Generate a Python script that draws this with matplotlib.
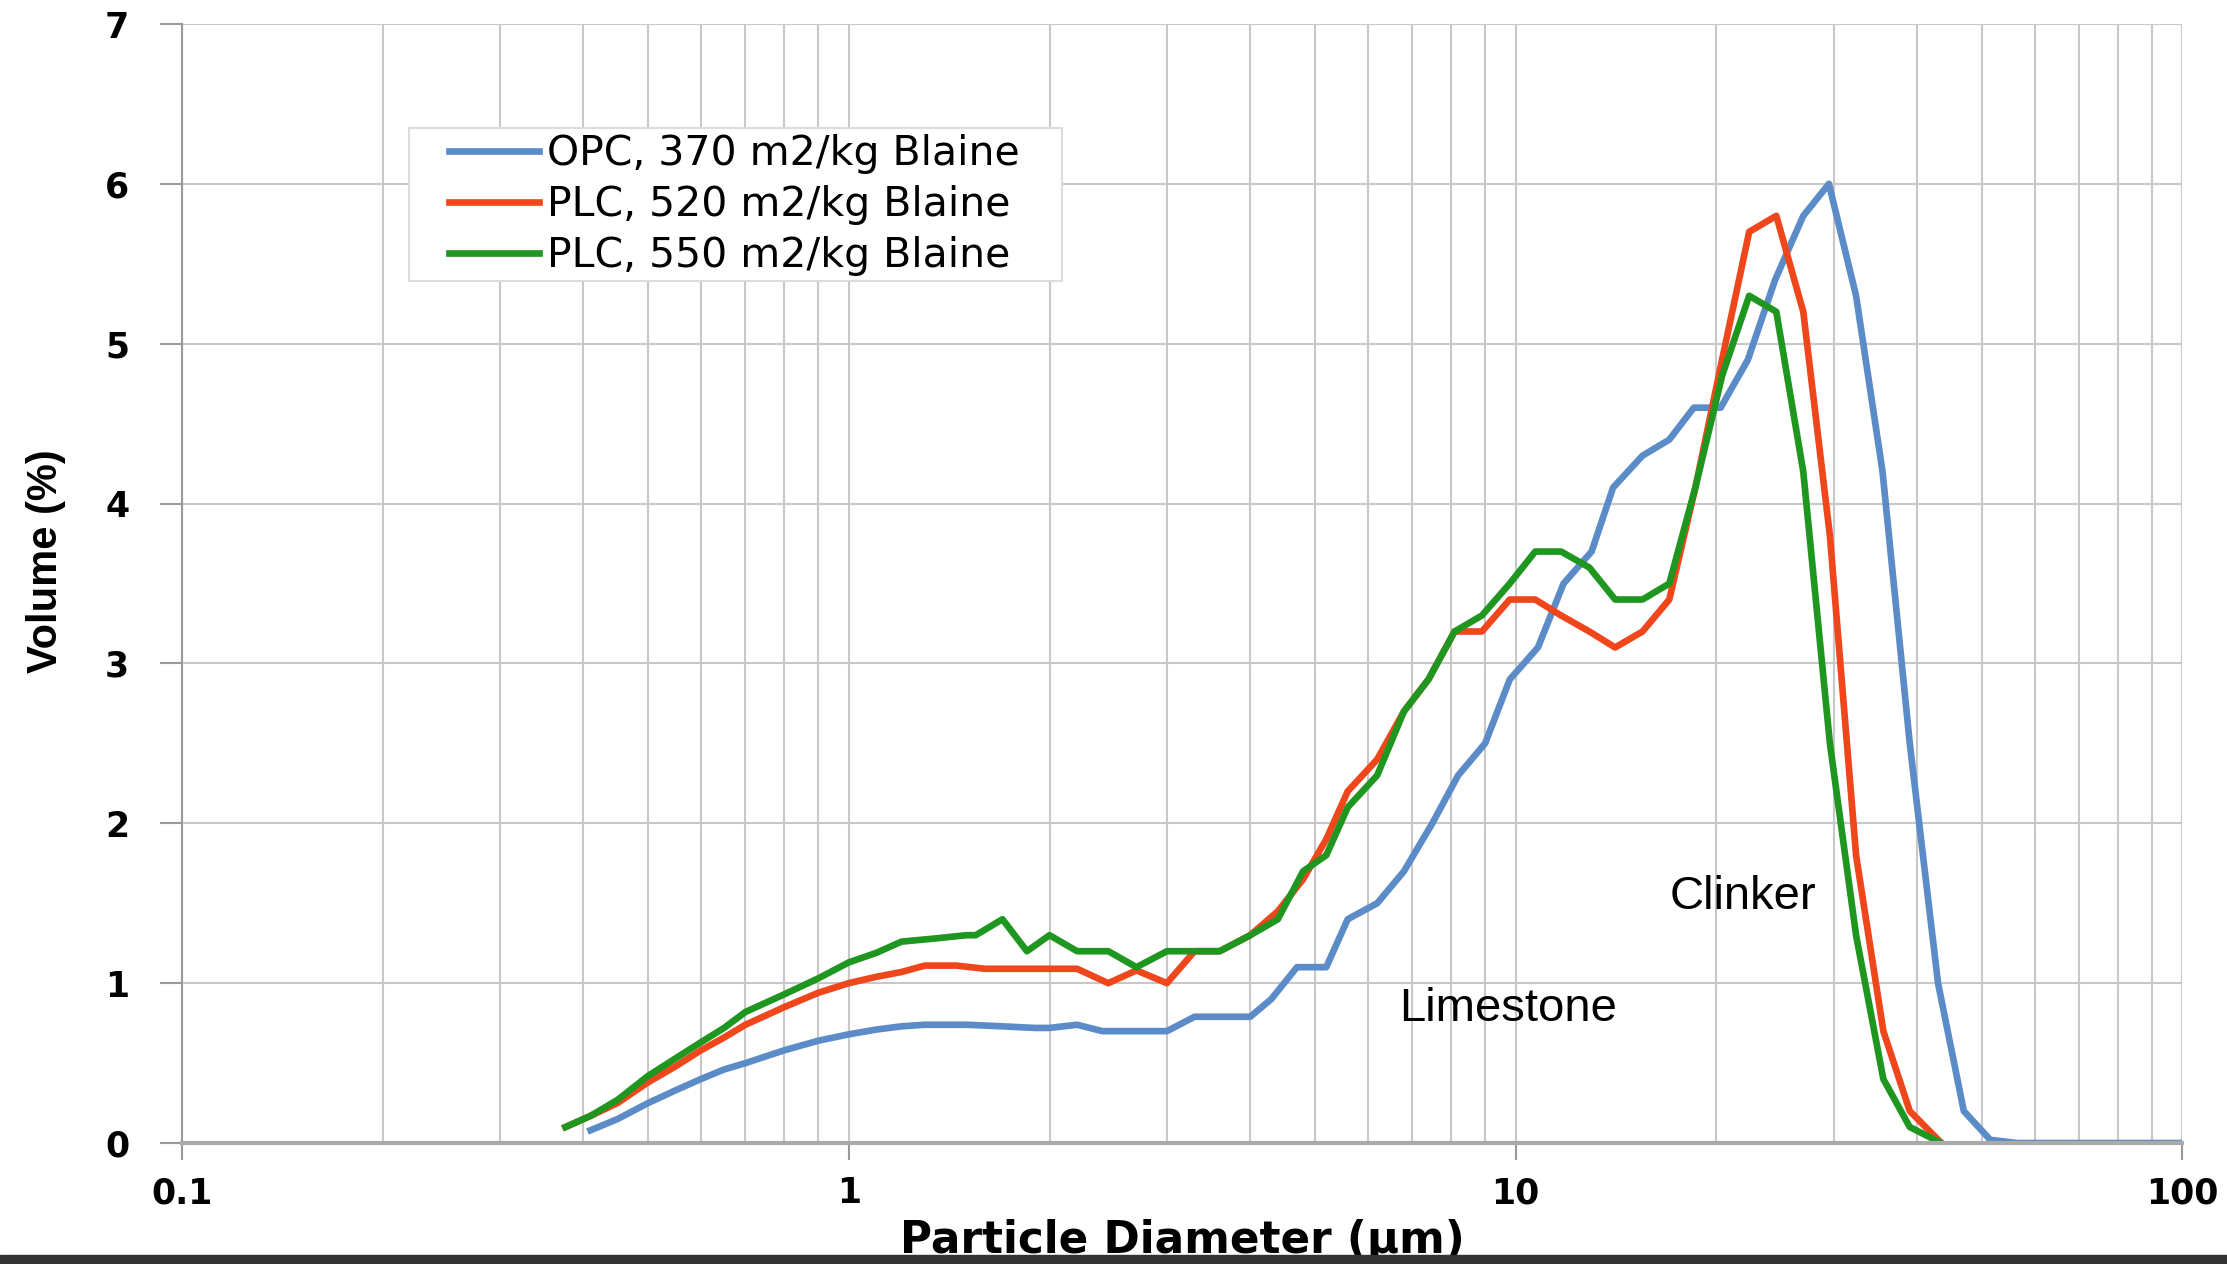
import matplotlib.pyplot as plt
from matplotlib.patches import Rectangle

# particle size distributions
opc_d = [0.41, 0.45, 0.5, 0.55, 0.6, 0.65, 0.7, 0.8, 0.9, 1.0, 1.1, 1.2, 1.3, 1.5, 1.7,
         1.9, 2.0, 2.2, 2.4, 2.7, 3.0, 3.3, 3.6, 4.0, 4.3, 4.7, 5.2, 5.6, 6.2, 6.8, 7.5,
         8.2, 9.0, 9.8, 10.8, 11.8, 13.0, 14.0, 15.5, 17.0, 18.5, 20.3, 22.3, 24.5, 27.0,
         29.5, 32.4, 35.5, 39.0, 43.0, 47.0, 51.5, 56.5, 62, 70, 80, 90, 100]
opc_v = [0.08, 0.15, 0.25, 0.33, 0.40, 0.46, 0.50, 0.58, 0.64, 0.68, 0.71, 0.73, 0.74, 0.74, 0.73,
         0.72, 0.72, 0.74, 0.70, 0.70, 0.70, 0.79, 0.79, 0.79, 0.90, 1.10, 1.10, 1.40, 1.50, 1.70, 2.00,
         2.30, 2.50, 2.90, 3.10, 3.50, 3.70, 4.10, 4.30, 4.40, 4.60, 4.60, 4.90, 5.40, 5.80,
         6.00, 5.30, 4.20, 2.50, 1.00, 0.20, 0.02, 0.0, 0.0, 0.0, 0.0, 0.0, 0.0]

plc520_d = [0.376, 0.41, 0.45, 0.5, 0.55, 0.6, 0.65, 0.7, 0.8, 0.9, 1.0, 1.1, 1.2, 1.3, 1.45,
            1.6, 1.8, 2.0, 2.2, 2.45, 2.7, 3.0, 3.3, 3.6, 4.0, 4.4, 4.8, 5.2, 5.6, 6.2, 6.8,
            7.4, 8.1, 8.9, 9.8, 10.7, 11.7, 12.9, 14.1, 15.5, 17.0, 18.6, 20.4, 22.4, 24.6,
            27.0, 29.6, 32.4, 35.6, 39.0, 43.5]
plc520_v = [0.10, 0.17, 0.25, 0.38, 0.48, 0.58, 0.66, 0.74, 0.85, 0.94, 1.00, 1.04, 1.07, 1.11, 1.11,
            1.09, 1.09, 1.09, 1.09, 1.00, 1.08, 1.00, 1.20, 1.20, 1.30, 1.45, 1.65, 1.90, 2.20, 2.40, 2.70,
            2.90, 3.20, 3.20, 3.40, 3.40, 3.30, 3.20, 3.10, 3.20, 3.40, 4.10, 4.90, 5.70, 5.80,
            5.20, 3.80, 1.80, 0.70, 0.20, 0.0]

plc550_d = [0.376, 0.41, 0.45, 0.5, 0.55, 0.6, 0.65, 0.7, 0.8, 0.9, 1.0, 1.1, 1.2, 1.35, 1.5,
            1.55, 1.7, 1.85, 2.0, 2.2, 2.45, 2.7, 3.0, 3.3, 3.6, 4.0, 4.4, 4.8, 5.2, 5.6, 6.2,
            6.8, 7.4, 8.1, 8.9, 9.8, 10.7, 11.7, 12.9, 14.1, 15.5, 17.0, 18.6, 20.4, 22.4,
            24.6, 27.0, 29.6, 32.4, 35.6, 39.0, 43.5]
plc550_v = [0.10, 0.17, 0.27, 0.42, 0.53, 0.63, 0.72, 0.82, 0.93, 1.03, 1.13, 1.19, 1.26, 1.28, 1.30,
            1.30, 1.40, 1.20, 1.30, 1.20, 1.20, 1.10, 1.20, 1.20, 1.20, 1.30, 1.40, 1.70, 1.80, 2.10, 2.30,
            2.70, 2.90, 3.20, 3.30, 3.50, 3.70, 3.70, 3.60, 3.40, 3.40, 3.50, 4.10, 4.80, 5.30,
            5.20, 4.20, 2.50, 1.30, 0.40, 0.10, 0.0]

labels = ["OPC, 370 m2/kg Blaine", "PLC, 520 m2/kg Blaine", "PLC, 550 m2/kg Blaine"]
colors = ["#5b8cc8", "#f0461c", "#1f961f"]

fig = plt.figure(figsize=(22.27, 12.64), dpi=100)
ax = fig.add_axes([0.0817, 0.0957, 0.8983, 0.8853])

ax.plot(opc_d, opc_v, color=colors[0], lw=4.8, label=labels[0])
ax.plot(plc520_d, plc520_v, color=colors[1], lw=4.8, label=labels[1])
ax.plot(plc550_d, plc550_v, color=colors[2], lw=4.8, label=labels[2])

ax.set_xscale("log")
ax.set_xlim(0.1, 100)
ax.set_ylim(0, 7)
ax.set_xticks([0.1, 1, 10, 100])
ax.set_xticklabels(["0.1", "1", "10", "100"])
ax.set_yticks(range(8))
ax.grid(True, which="major", color="#c8c8c8", lw=1.5)
ax.grid(True, which="minor", axis="x", color="#c8c8c8", lw=1.5)
ax.tick_params(axis="x", which="minor", length=0)
ax.tick_params(axis="x", which="major", length=12, width=1.5, color="#999999", pad=12)
ax.tick_params(axis="y", length=16, width=1.5, color="#999999", pad=22)
for s in ["top", "right"]:
    ax.spines[s].set_visible(False)
ax.spines["left"].set_color("#999999")
ax.spines["left"].set_linewidth(1.5)
ax.spines["bottom"].set_color("#aaaaaa")
ax.spines["bottom"].set_linewidth(3)

for lab in ax.get_xticklabels() + ax.get_yticklabels():
    lab.set_fontsize(25)
    lab.set_fontweight("bold")
    lab.set_family("DejaVu Sans")

ax.set_ylabel("Volume (%)", fontsize=30, fontweight="bold", family="Liberation Sans")
ax.yaxis.set_label_coords(-0.058, 0.52)
ax.set_xlabel("Particle Diameter (µm)", fontsize=31.5, fontweight="bold", family="DejaVu Sans", labelpad=6)

ax.text(6.68, 0.84, "Limestone", fontsize=34, family="Liberation Sans", va="center")
ax.text(17.0, 1.54, "Clinker", fontsize=34, family="Liberation Sans", va="center")

# legend box drawn separately so the padding matches the original
ax.add_patch(Rectangle((0.1134, 0.7703), 0.3264, 0.1367, transform=ax.transAxes,
                       facecolor="white", edgecolor="#dddddd", lw=1.5, zorder=4))
leg = ax.legend(loc="center left", bbox_to_anchor=(0.1334, 0.838), borderaxespad=0, borderpad=0,
                frameon=False, handlelength=2.2, handletextpad=0.2, labelspacing=0.27,
                prop={"family": "DejaVu Sans", "size": 29.5})
leg.set_zorder(5)

fig.patches.append(Rectangle((0, 0), 1, 0.0075, transform=fig.transFigure, color="#333333", zorder=10))

fig.savefig("out.png", dpi=100)
